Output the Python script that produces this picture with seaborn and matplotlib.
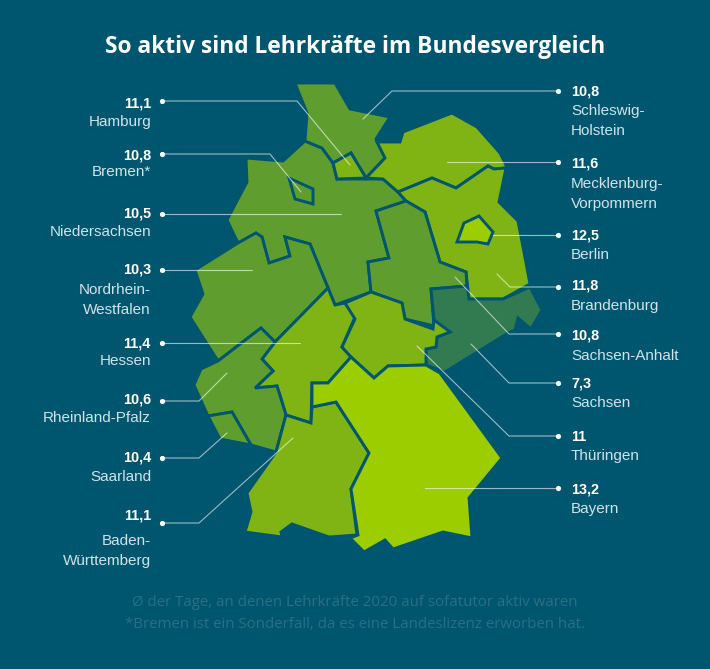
import matplotlib
matplotlib.use("Agg")
import matplotlib.pyplot as plt
import pandas as pd
import seaborn as sns

# -----------------------------
# Data
# -----------------------------
states = ["Hamburg", "Bremen", "Niedersachsen", "Nordrhein-Westfalen", "Hessen",
          "Rheinland-Pfalz", "Saarland", "Baden-Württemberg", "Schleswig-Holstein",
          "Mecklenburg-Vorpommern", "Berlin", "Brandenburg", "Sachsen-Anhalt",
          "Sachsen", "Thüringen", "Bayern"]
values = [11.1, 10.8, 10.5, 10.3, 11.4, 10.6, 10.4, 11.1, 10.8, 11.6, 12.5, 11.8, 10.8, 7.3, 11.0, 13.2]
value_labels = ["11,1", "10,8", "10,5", "10,3", "11,4", "10,6", "10,4", "11,1",
                "10,8", "11,6", "12,5", "11,8", "10,8", "7,3", "11", "13,2"]
name_labels = ["Hamburg", "Bremen*", "Niedersachsen", "Nordrhein-\nWestfalen", "Hessen",
               "Rheinland-Pfalz", "Saarland", "Baden-\nWürttemberg", "Schleswig-\nHolstein",
               "Mecklenburg-\nVorpommern", "Berlin", "Brandenburg", "Sachsen-Anhalt",
               "Sachsen", "Thüringen", "Bayern"]

title = "So aktiv sind Lehrkräfte im Bundesvergleich"
footer = ["Ø der Tage, an denen Lehrkräfte 2020 auf sofatutor aktiv waren",
          "*Bremen ist ein Sonderfall, da es eine Landeslizenz erworben hat."]

# state outlines, traced in picture pixels
outlines = {
    "Schleswig-Holstein": [(295, 83), (335, 83), (350, 109), (390, 117), (376, 139), (385, 158), (366, 178),
                           (351, 153), (333, 163), (322, 148), (305, 141), (307, 113)],
    "Hamburg": [(333, 163), (351, 153), (366, 178), (337, 179)],
    "Mecklenburg-Vorpommern": [(366, 178), (385, 158), (377, 142), (400, 142), (403, 132), (452, 113), (477, 127),
                               (500, 153), (506, 165), (506, 168), (494, 169), (488, 166), (456, 188), (432, 178),
                               (398, 192), (383, 179)],
    "Niedersachsen": [(246, 158), (283, 161), (305, 141), (322, 148), (333, 163), (337, 179), (383, 179), (398, 192),
                      (406, 201), (376, 211), (389, 258), (368, 262), (371, 292), (335, 305), (328, 288), (310, 244),
                      (285, 237), (290, 256), (269, 263), (262, 237), (256, 233), (238, 243), (227, 220), (247, 182)],
    "Bremen": [(289, 178), (313, 189), (313, 204), (295, 199)],
    "Nordrhein-Westfalen": [(238, 243), (256, 233), (262, 237), (269, 263), (290, 256), (285, 237), (310, 244),
                            (328, 288), (275, 342), (261, 328), (218, 361), (190, 317), (203, 294), (195, 270)],
    "Rheinland-Pfalz": [(218, 361), (261, 328), (275, 342), (262, 359), (273, 371), (255, 388), (277, 386), (286, 415),
                        (276, 452), (251, 445), (232, 412), (208, 416), (194, 385), (201, 369)],
    "Saarland": [(208, 416), (232, 412), (251, 445), (220, 439)],
    "Hessen": [(328, 288), (335, 305), (345, 303), (355, 317), (342, 347), (351, 357), (328, 383), (312, 383),
               (311, 423), (286, 415), (277, 386), (255, 388), (273, 371), (262, 359), (275, 342)],
    "Thüringen": [(371, 292), (402, 303), (405, 319), (433, 329), (434, 320), (450, 332), (437, 337), (436, 347),
                  (426, 349), (426, 365), (388, 366), (374, 378), (352, 358), (342, 347), (355, 319), (345, 303)],
    "Sachsen-Anhalt": [(406, 201), (425, 212), (440, 262), (466, 272), (467, 286), (431, 289), (434, 326), (405, 319),
                       (402, 303), (371, 292), (368, 262), (389, 258), (376, 211)],
    "Brandenburg": [(398, 192), (432, 178), (456, 188), (488, 166), (494, 169), (506, 168), (499, 202), (518, 221),
                    (530, 284), (503, 299), (469, 299), (466, 272), (440, 262), (425, 212), (406, 201)],
    "Berlin": [(464, 223), (479, 216), (493, 232), (488, 244), (477, 242), (457, 242)],
    "Sachsen": [(431, 289), (467, 286), (469, 299), (503, 299), (530, 287), (542, 310), (531, 329), (518, 318),
                (515, 330), (508, 333), (445, 372), (426, 365), (426, 349), (436, 347), (437, 337), (450, 332),
                (434, 320)],
    "Baden-Württemberg": [(286, 415), (311, 423), (312, 407), (336, 402), (369, 453), (351, 489), (357, 535), (329, 537),
                          (292, 524), (281, 532), (282, 537), (245, 532), (251, 512), (247, 493), (276, 452)],
    "Bayern": [(352, 358), (374, 378), (388, 366), (426, 365), (440, 373), (502, 458), (469, 498), (472, 538), (443, 532),
               (393, 549), (385, 540), (364, 552), (350, 538), (358, 535), (351, 489), (369, 453), (336, 402), (312, 407),
               (312, 383), (328, 383), (351, 357)],
}

# leader lines, from the label dot into the state
leaders = {
    "Hamburg": [(162, 101), (297, 101), (350, 165)],
    "Bremen": [(162, 154), (270, 154), (301, 192)],
    "Niedersachsen": [(162, 214), (341, 214)],
    "Nordrhein-Westfalen": [(162, 270), (252, 270)],
    "Hessen": [(162, 343), (300, 343)],
    "Rheinland-Pfalz": [(162, 401), (199, 401), (227, 373)],
    "Saarland": [(162, 458), (199, 458), (227, 433)],
    "Baden-Württemberg": [(162, 523), (199, 523), (293, 438)],
    "Schleswig-Holstein": [(558, 91), (392, 91), (363, 119)],
    "Mecklenburg-Vorpommern": [(558, 162), (447, 162)],
    "Berlin": [(558, 235), (493, 235)],
    "Brandenburg": [(558, 287), (510, 287), (497, 274)],
    "Sachsen-Anhalt": [(558, 334), (509, 334), (455, 277)],
    "Sachsen": [(558, 383), (509, 383), (471, 344)],
    "Thüringen": [(558, 436), (509, 436), (417, 346)],
    "Bayern": [(558, 488), (425, 488)],
}

# label text rows: value y, name y
label_y = {
    "Hamburg": (104, 122), "Bremen": (155, 172), "Niedersachsen": (213, 232),
    "Nordrhein-Westfalen": (270, 300), "Hessen": (343, 361), "Rheinland-Pfalz": (400, 418),
    "Saarland": (458, 477), "Baden-Württemberg": (516, 551), "Schleswig-Holstein": (91, 121),
    "Mecklenburg-Vorpommern": (164, 194), "Berlin": (235, 255), "Brandenburg": (286, 306),
    "Sachsen-Anhalt": (336, 356), "Sachsen": (384, 403), "Thüringen": (437, 456), "Bayern": (489, 509),
}

# -----------------------------
# Colours
# -----------------------------
BG = "#01566f"
df = pd.DataFrame({"state": states, "value": values, "value_label": value_labels, "name": name_labels})
df["bin"] = pd.cut(df["value"], [0, 8, 11, 12, 20], right=False, labels=False)
bin_palette = ["#327a4f", "#5f9e2e", "#7fb414", "#9bcd00"]

# -----------------------------
# Figure
# -----------------------------
sns.set_theme(style="white")
plt.rcParams["font.family"] = ["Liberation Sans", "DejaVu Sans"]

fig = plt.figure(figsize=(7.10, 6.69), dpi=100, facecolor=BG)
ax = fig.add_axes([0, 0, 1, 1], facecolor=BG)

for row in df.itertuples():
    xs, ys = zip(*outlines[row.state])
    ax.fill(xs, ys, facecolor=bin_palette[row.bin], edgecolor=BG, linewidth=2.1,
            joinstyle="miter", zorder=2 if row.state not in ("Hamburg", "Bremen", "Berlin") else 3)

for name, pts in leaders.items():
    line = pd.DataFrame(pts, columns=["x", "y"])
    sns.lineplot(data=line, x="x", y="y", sort=False, estimator=None, color="white",
                 alpha=0.6, linewidth=0.8, ax=ax, zorder=4)

dots = pd.DataFrame([pts[0] for pts in leaders.values()], columns=["x", "y"])
sns.scatterplot(data=dots, x="x", y="y", color="white", s=14, linewidth=0, ax=ax, zorder=5)

ax.set_xlim(0, 710)
ax.set_ylim(669, 0)
ax.set_axis_off()

# -----------------------------
# Labels
# -----------------------------
for row in df.itertuples():
    left = leaders[row.state][0][0] < 300
    x, ha = (151, "right") if left else (571, "left")
    y_val, y_name = label_y[row.state]
    ax.text(x, y_val, row.value_label, ha=ha, va="center", color="white",
            fontsize=10.4, fontweight="bold", zorder=6)
    ax.text(x, y_name, row.name, ha=ha, va="center", color="#cfe3e8",
            fontsize=11, linespacing=1.55, zorder=6)

ax.text(355.5, 47, title, ha="center", va="center", color="white",
        fontsize=16.4, fontweight="bold", family="Open Sans")
ax.text(355, 603, footer[0], ha="center", va="center", color="#2a6f84", fontsize=10.8, family="Open Sans")
ax.text(355, 625, footer[1], ha="center", va="center", color="#2a6f84", fontsize=10.8, family="Open Sans")

fig.savefig("out.png", dpi=100, facecolor=BG)
